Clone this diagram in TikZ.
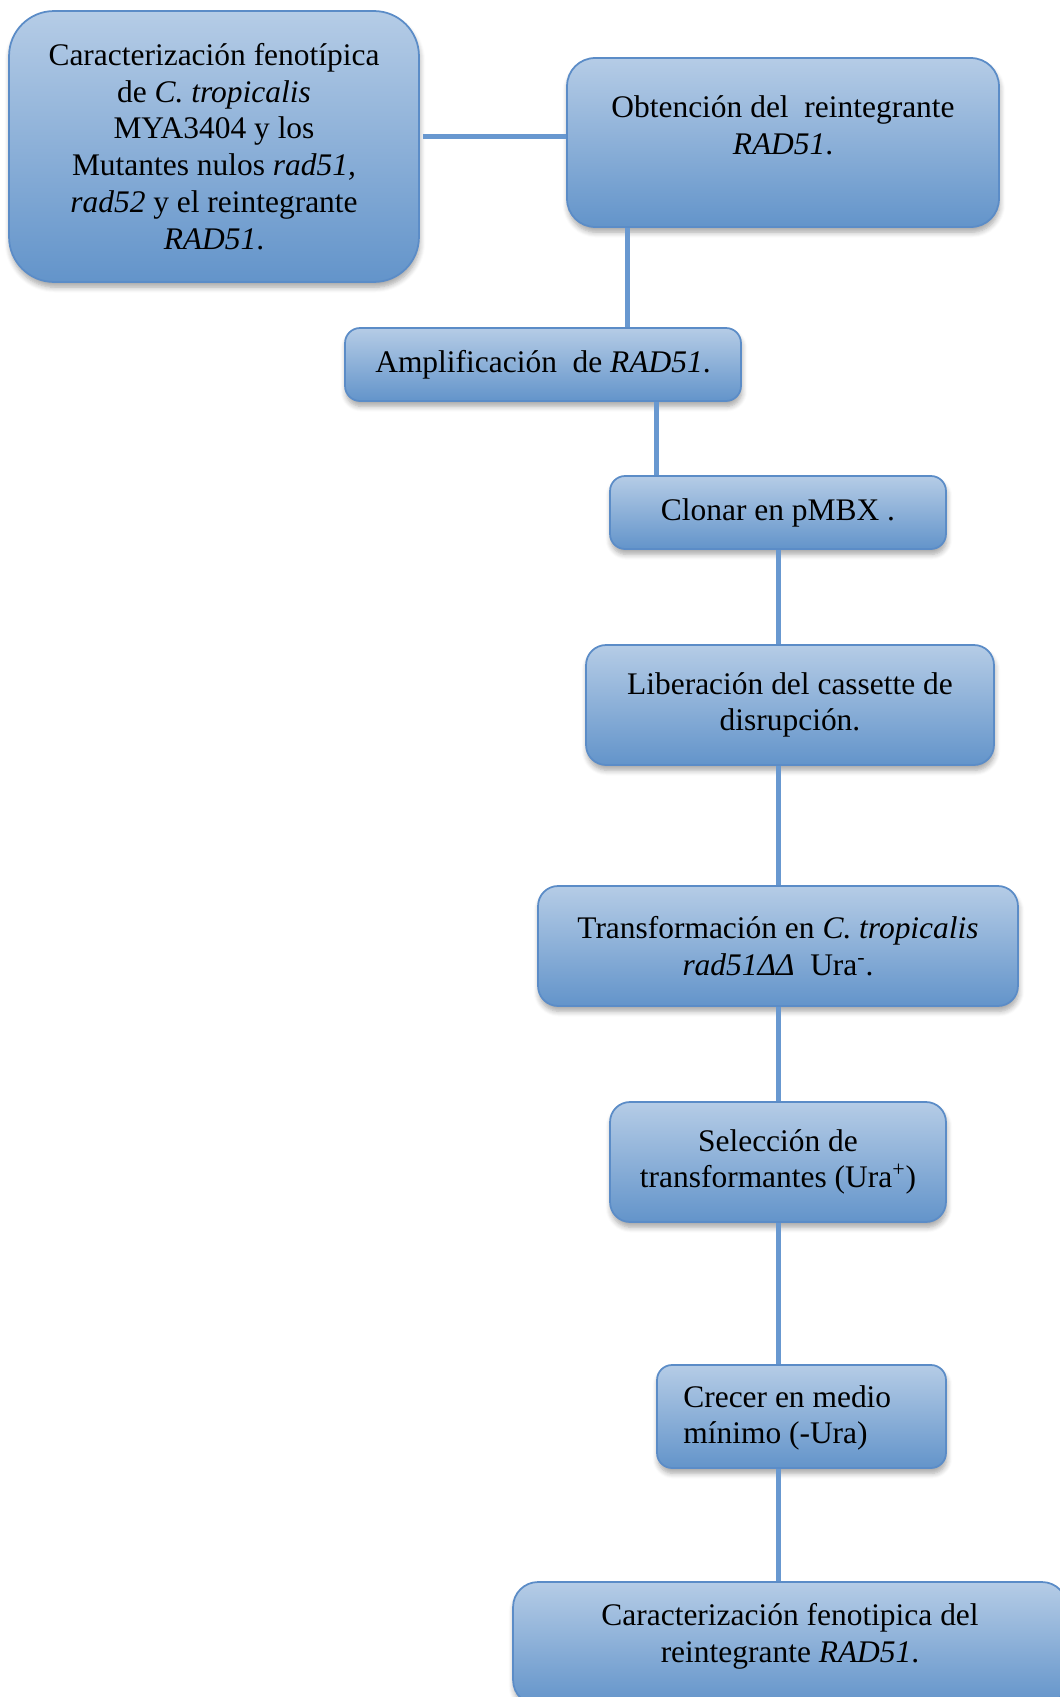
\documentclass[tikz,border=0pt]{standalone}
\usepackage{fontspec}
\setmainfont{Liberation Serif}
\usetikzlibrary{calc,shadows.blur}
\definecolor{BoxTop}{HTML}{B5CCE6}
\definecolor{BoxBottom}{HTML}{6394CA}
\definecolor{BoxEdge}{HTML}{5B8CC7}
\definecolor{LinkBlue}{HTML}{6898D0}

\begin{document}
\begin{tikzpicture}[x=0.02cm,y=-0.02cm,
  stepbox/.style={draw=BoxEdge,line width=1pt,top color=BoxTop,bottom color=BoxBottom,rounded corners=0.4cm,align=center,inner sep=0pt,font=\fontsize{17.9}{20.9}\selectfont,blur shadow={shadow xshift=0.5pt,shadow yshift=-3pt,shadow blur steps=6,shadow blur radius=3pt,shadow opacity=35}},
  steptext/.style={align=center,inner sep=0pt,font=\fontsize{17.9}{20.9}\selectfont},
  link/.style={draw=LinkBlue,line width=0.1cm}]
  \clip (0,0) rectangle (1060,1697);
  \node[stepbox,minimum width=8.2cm,minimum height=5.42cm,rounded corners=0.9cm] (caract) at (214,146.5) {Caracterización fenotípica\\ de \textit{C. tropicalis}\\ MYA3404 y los\\ Mutantes nulos \textit{rad51,}\\ \textit{rad52} y el reintegrante\\ \textit{RAD51}.};
  \node[stepbox,minimum width=8.64cm,minimum height=3.38cm,rounded corners=0.56cm] (obtencion) at (783,142.5) {};
  \node[steptext] (obtenciontxt) at (783,125) {Obtención del~ reintegrante\\ \textit{RAD51}.};
  \node[stepbox,minimum width=7.92cm,minimum height=1.46cm,rounded corners=0.3cm] (amplif) at (543,364.5) {Amplificación~ de \textit{RAD51}.};
  \node[stepbox,minimum width=6.72cm,minimum height=1.46cm,rounded corners=0.3cm] (clonar) at (778,512.5) {Clonar en pMBX .};
  \node[stepbox,minimum width=8.16cm,minimum height=2.4cm] (liberacion) at (790,705) {Liberación del cassette de\\ disrupción.};
  \node[stepbox,minimum width=9.6cm,minimum height=2.4cm] (transform) at (778,946) {Transformación en \textit{C. tropicalis}\\ \textit{rad51ΔΔ}~ Ura\textsuperscript{-}.};
  \node[stepbox,minimum width=6.72cm,minimum height=2.4cm] (seleccion) at (778,1162) {Selección de\\ transformantes (Ura\textsuperscript{+})};
  \node[stepbox,minimum width=5.78cm,minimum height=2.06cm,rounded corners=0.3cm] (crecer) at (801.5,1416.5) {};
  \node[steptext,align=left,anchor=west] (crecertxt) at (683,1418) {Crecer en medio\\ mínimo (-Ura)};
  \node[stepbox,minimum width=11.08cm,minimum height=2.46cm,rounded corners=0.5cm] (final) at (790,1643.5) {};
  \node[steptext] (finaltxt) at (790,1636) {Caracterización fenotipica del\\ reintegrante \textit{RAD51}.};
  \coordinate (ab) at ($(caract.east)+(3,-10)$);
  \coordinate (bc) at ($(obtencion.south west)+(61,0)$);
  \coordinate (cd) at ($(clonar.north west)+(47,0)$);
  \draw[link] (ab) -- (ab -| obtencion.west);
  \draw[link] (bc) -- (bc |- amplif.north);
  \draw[link] (cd |- amplif.south) -- (cd);
  \foreach \a/\b in {clonar/liberacion,liberacion/transform,transform/seleccion,seleccion/crecer,crecer/final}
    \draw[link] (\a.south -| clonar.south) -- (\b.north -| clonar.south);
\end{tikzpicture}
\end{document}
